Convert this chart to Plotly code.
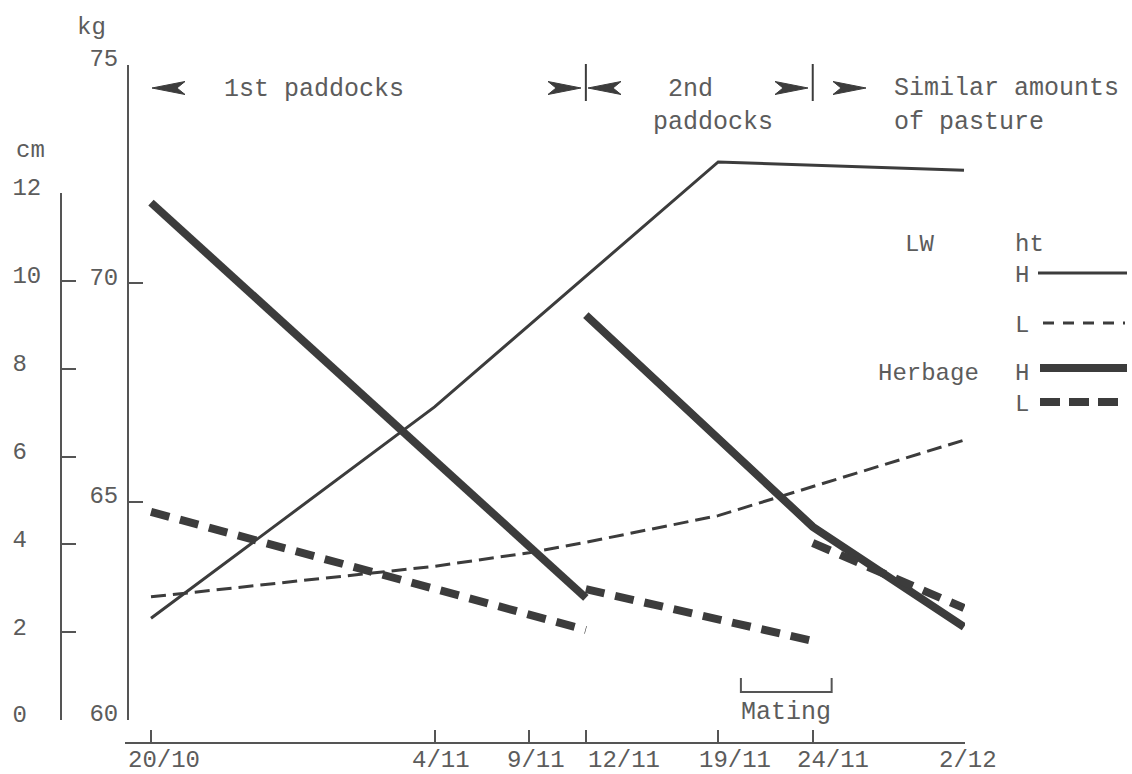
import plotly.graph_objects as go

W, H = 1132, 774

# Sampling dates, counted in days from 20 October
tick_labels = ["20/10", "4/11", "9/11", "12/11", "19/11", "24/11", "2/12"]
tick_days = [0, 15, 20, 23, 30, 35, 43]
# horizontal offset (px) of each date label from its tick, as typed on the axis
tick_label_shift = [13, 6, 7, 38, 17, 20, 4]

# Liveweight (kg) of ewes on high (H) and low (L) herbage heights
lw_high_days = [0, 15, 30, 43]
lw_high_kg = [62.33, 67.17, 72.78, 72.59]
lw_low_days = [0, 15, 20, 23, 30, 43]
lw_low_kg = [62.82, 63.52, 63.83, 64.07, 64.68, 66.41]

# Herbage height (cm); None separates the paddock periods
herb_high_days = [0, 23, None, 23, 35, 43]
herb_high_cm = [11.78, 2.78, None, 9.22, 4.40, 2.12]
herb_low_days = [0, 23, None, 23, 35, None, 35, 43]
herb_low_cm = [4.74, 2.05, None, 2.98, 1.80, None, 4.03, 2.55]

# Axis ticks
kg_ticks = [60, 65, 70, 75]
cm_ticks = [0, 2, 4, 6, 8, 10, 12]

# Paddock change-overs and mating period (days)
paddock_changes = [23, 35]
mating_days = [31.2, 36.0]

INK = "#3c3c3c"
TXT = "#5c5c5c"
FONT = "Liberation Mono"


def px(x):
    return x / W


def py(y):
    return 1 - y / H


fig = go.Figure()

fig.add_trace(go.Scatter(x=lw_high_days, y=lw_high_kg, mode="lines",
                         line=dict(color=INK, width=3), yaxis="y",
                         showlegend=False, hoverinfo="skip"))
fig.add_trace(go.Scatter(x=lw_low_days, y=lw_low_kg, mode="lines",
                         line=dict(color=INK, width=3, dash="15px,7px"),
                         yaxis="y", showlegend=False, hoverinfo="skip"))
fig.add_trace(go.Scatter(x=herb_high_days, y=herb_high_cm, mode="lines",
                         line=dict(color=INK, width=8), yaxis="y2",
                         connectgaps=False, showlegend=False, hoverinfo="skip"))
fig.add_trace(go.Scatter(x=herb_low_days, y=herb_low_cm, mode="lines",
                         line=dict(color=INK, width=8, dash="19px,11px"),
                         yaxis="y2", connectgaps=False, showlegend=False,
                         hoverinfo="skip"))

axis_common = dict(showgrid=False, zeroline=False, showline=True, automargin=False,
                   linecolor="#555555", linewidth=2, ticks="inside",
                   tickcolor="#555555", tickwidth=2, tickangle=0,
                   tickfont=dict(family=FONT, size=24, color=TXT))

fig.update_layout(
    width=W, height=H, autosize=False,
    margin=dict(l=0, r=0, t=0, b=0, pad=0),
    paper_bgcolor="white", plot_bgcolor="rgba(0,0,0,0)",
    xaxis=dict(**axis_common, domain=[px(125), px(965)],
               range=[-1.375, 43.053], anchor="free", position=py(743),
               tickvals=tick_days, ticktext=tick_labels, ticklen=12,
               showticklabels=False),
    yaxis=dict(**axis_common, domain=[py(720), py(65)], range=[60, 75],
               anchor="free", position=px(128), tickvals=kg_ticks,
               ticktext=[str(v) for v in kg_ticks], ticklen=14,
               ticklabelstandoff=4, ticklabelshift=-7),
    yaxis2=dict(**axis_common, domain=[py(720), py(193)], range=[0, 12],
                anchor="free", position=px(61), tickvals=cm_ticks,
                ticktext=[(str(v) + "\u00a0") if v < 10 else str(v) for v in cm_ticks],
                ticklen=14, ticklabelstandoff=14, ticklabelshift=-6),
)

shapes = []
annotations = []


def text(s, x, y, anchor="left", size=25):
    annotations.append(dict(text=s, x=px(x), y=py(y), xref="paper", yref="paper",
                            xanchor=anchor, yanchor="middle", showarrow=False,
                            font=dict(family=FONT, size=size, color=TXT)))


def dart(tip, y, direction, length=33, half=6.5, notch=8):
    back = tip - direction * length
    pts = [(tip, y), (back, y - half), (back + direction * notch, y), (back, y + half)]
    path = "M " + " L ".join(f"{px(a):.5f},{py(b):.5f}" for a, b in pts) + " Z"
    shapes.append(dict(type="path", path=path, xref="paper", yref="paper",
                       fillcolor=INK, line=dict(color=INK, width=1)))


# Date labels under the time axis
for lab, d, sh in zip(tick_labels, tick_days, tick_label_shift):
    annotations.append(dict(text=lab, x=d, y=py(760), xref="x", yref="paper",
                            xanchor="center", yanchor="middle", xshift=sh,
                            showarrow=False, borderpad=0,
                            font=dict(family=FONT, size=24, color=TXT)))

# Axis titles
text("kg", 91, 28, "center", 24)
text("cm", 30, 150, "center", 24)

# Paddock periods along the top
dart(152, 88, -1)
text("1st paddocks", 222, 90)
dart(581, 88, 1)
dart(588, 88, -1)
text("2nd", 666, 90)
text("paddocks", 651, 122)
dart(808, 88, 1)
dart(866, 88, 1)
text("Similar amounts", 892, 88)
text("of pasture", 892, 122)
for d in paddock_changes:
    shapes.append(dict(type="line", xref="x", yref="paper", x0=d, x1=d,
                       y0=py(64), y1=py(101), line=dict(color=INK, width=2)))

# Mating bracket
shapes.append(dict(type="path", xref="x", yref="paper",
                   path=(f"M {mating_days[0]},{py(678):.5f} L {mating_days[0]},{py(692):.5f} "
                         f"L {mating_days[1]},{py(692):.5f} L {mating_days[1]},{py(678):.5f}"),
                   line=dict(color="#555555", width=2)))
annotations.append(dict(text="Mating", x=sum(mating_days) / 2, y=py(712), xref="x",
                        yref="paper", xanchor="center", yanchor="middle", showarrow=False,
                        font=dict(family=FONT, size=25, color=TXT)))

# Key
text("LW", 919, 245, "center", 24)
text("ht", 1029, 245, "center", 24)
text("H", 1022, 275, "center", 24)
text("L", 1022, 326, "center", 24)
text("Herbage", 928, 373, "center", 24)
text("H", 1022, 373, "center", 24)
text("L", 1022, 404, "center", 24)
key_lines = [
    (1038, 1127, 273, 3, "solid"),
    (1043, 1125, 323, 3, "11px,9px"),
    (1040, 1127, 368, 8, "solid"),
    (1040, 1120, 402, 8, "20px,9px"),
]
for x0, x1, y, w, dash in key_lines:
    shapes.append(dict(type="line", xref="paper", yref="paper", x0=px(x0), x1=px(x1),
                       y0=py(y), y1=py(y), line=dict(color=INK, width=w, dash=dash)))

fig.update_layout(shapes=shapes, annotations=annotations)

fig.write_html("out.html", config={"displayModeBar": False})
